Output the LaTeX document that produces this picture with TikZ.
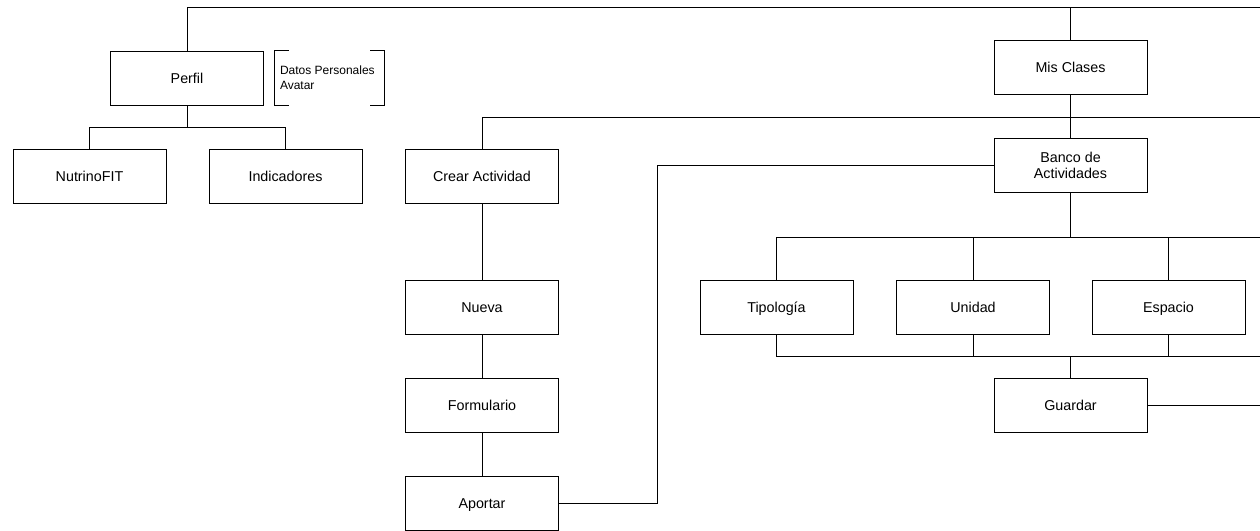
\documentclass[tikz,border=0pt]{standalone}
\usepackage{fontspec}
\setmainfont{Liberation Sans}
\begin{document}
\begin{tikzpicture}[x=1pt,y=-1pt,
  every path/.style={line width=0.9pt},
  basebox/.style={draw, line width=0.9pt, minimum width=153pt, minimum height=54pt,
    inner sep=0pt, align=center, font=\fontsize{14.3}{16}\selectfont},
  box/.style={basebox, text height=10pt, text depth=0pt},
  boldlink/.style={draw, line width=1.8pt}]
\useasboundingbox (0,0) rectangle (1260,530);

% menu items
\node[box] (perfil) at (187,78) {Perfil};
\node[box] (nutri) at (89.5,176) {NutrinoFIT};
\node[box] (indic) at (285.5,176) {Indicadores};
\node[box] (clases) at (1070.5,67) {Mis Clases};
\node[basebox] (banco) at (1070.5,165.5) {Banco de\\Actividades};
\node[box] (crear) at (482,176.5) {Crear Actividad};
\node[box] (nueva) at (482,307.5) {Nueva};
\node[box] (form) at (482,405.5) {Formulario};
\node[box] (aportar) at (482,503.5) {Aportar};
\node[box] (tipo) at (776.5,307) {Tipología};
\node[box] (unidad) at (973,307) {Unidad};
\node[box] (espacio) at (1168.5,307) {Espacio};
\node[box] (guardar) at (1070.5,405) {Guardar};

% note with bracket marks
\node[minimum width=109pt, minimum height=54pt, inner sep=0pt] (datos) at (329.5,78) {};
\node[anchor=west, align=left, inner sep=0pt, font=\fontsize{12}{15}\selectfont]
  (datostxt) at ([xshift=5pt]datos.west) {Datos Personales\\Avatar};
\draw ([xshift=14pt]datos.north west) -- (datos.north west) -- (datos.south west) -- ([xshift=14pt]datos.south west);
\draw ([xshift=-14pt]datos.north east) -- (datos.north east) -- (datos.south east) -- ([xshift=-14pt]datos.south east);

% free ends at the right margin
\coordinate (topR) at (1260,7);
\coordinate (midR) at (1260,117);
\coordinate (rowR) at (1260,237);
\coordinate (botR) at (1260,356);
\coordinate (guaR) at (1260,405);

% top level
\draw (perfil.north) |- (topR);
\draw (clases.north) -- (clases.north |- topR);

% profile branch
\draw (perfil.south) -- ++(0,22) coordinate (pj);
\draw (nutri.north) |- (pj) -| (indic.north);

% classes branch
\draw (clases.south) -- (banco.north);
\draw (crear.north) |- (midR);

% create activity chain
\draw (crear.south) -- (nueva.north);
\draw (nueva.south) -- (form.north);
\draw (form.south) -- (aportar.north);
\draw (aportar.east) -- (657,503.5) |- (banco.west);

% bank filters
\draw (banco.south) -- (banco.south |- rowR);
\draw (tipo.north) |- (rowR);
\draw (unidad.north) -- (unidad.north |- rowR);
\draw (espacio.north) -- (espacio.north |- rowR);
\draw (tipo.south) |- (botR);
\draw (unidad.south) -- (unidad.south |- botR);
\draw (espacio.south) -- (espacio.south |- botR);
\draw[boldlink] (guardar.north |- botR) -- (guardar.north);
\draw (guardar.east) -- (guaR);
\end{tikzpicture}
\end{document}
